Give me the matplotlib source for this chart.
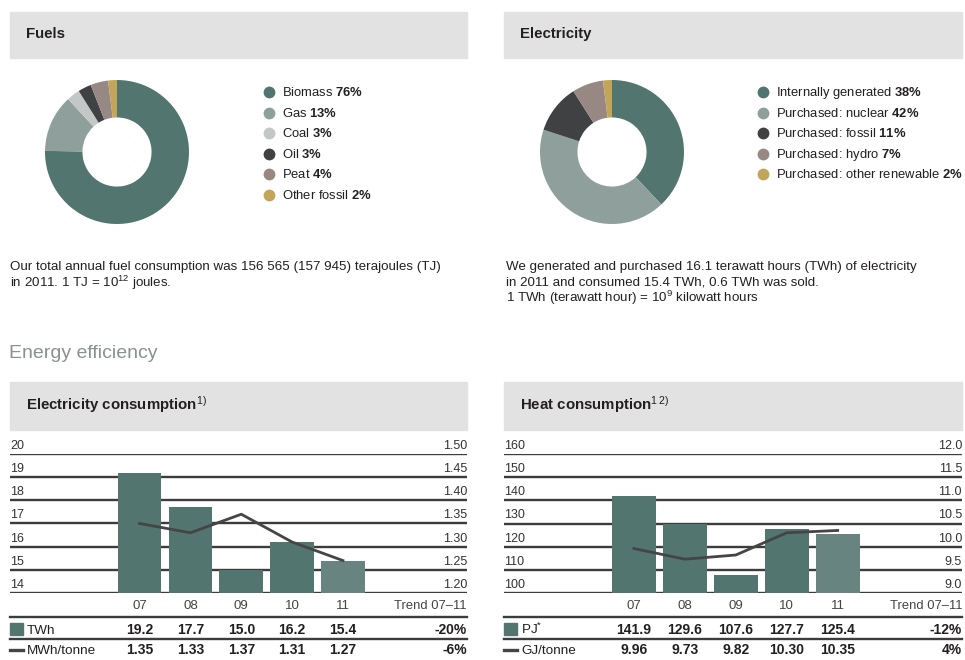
import matplotlib.pyplot as plt
import matplotlib.transforms as mtrans
from matplotlib.patches import Rectangle
from matplotlib.lines import Line2D

plt.rcParams['font.family'] = ['Liberation Sans', 'DejaVu Sans']
plt.rcParams['mathtext.fontset'] = 'custom'
plt.rcParams['mathtext.rm'] = 'Liberation Sans'
plt.rcParams['mathtext.bf'] = 'Liberation Sans:bold'
plt.rcParams['mathtext.it'] = 'Liberation Sans:italic'

# --- data ---
fuel_labels = ['Biomass', 'Gas', 'Coal', 'Oil', 'Peat', 'Other fossil']
fuel_share = [76, 13, 3, 3, 4, 2]
fuel_colors = ['#52756f', '#8fa09c', '#c3c8c6', '#3f4143', '#988884', '#c2a558']

elec_labels = ['Internally generated', 'Purchased: nuclear', 'Purchased: fossil',
               'Purchased: hydro', 'Purchased: other renewable']
elec_share = [38, 42, 11, 7, 2]
elec_colors = ['#52756f', '#8fa09c', '#3f4143', '#988884', '#c2a558']

years = ['07', '08', '09', '10', '11']
elec_twh = [19.2, 17.7, 15.0, 16.2, 15.4]
elec_mwh_t = [1.35, 1.33, 1.37, 1.31, 1.27]
elec_trend = ['-20%', '-6%']
elec_ticks_l = [14, 15, 16, 17, 18, 19, 20]
elec_ticks_r = [1.20, 1.25, 1.30, 1.35, 1.40, 1.45, 1.50]

heat_pj = [141.9, 129.6, 107.6, 127.7, 125.4]
heat_gj_t = [9.96, 9.73, 9.82, 10.30, 10.35]
heat_trend = ['-12%', '4%']
heat_ticks_l = [100, 110, 120, 130, 140, 150, 160]
heat_ticks_r = [9.0, 9.5, 10.0, 10.5, 11.0, 11.5, 12.0]

TXT = '#231f20'
BAR = '#52756f'
BAR_LAST = '#688480'
LINE = '#454545'
GRID = '#3c3c3c'
HEAD = '#e1e2e1'

W, H = 965, 660
fig = plt.figure(figsize=(W / 100, H / 100), dpi=100)


def rect(x0, y0, x1, y1):
    # pixel box (top-left origin) -> figure fraction
    return [x0 / W, 1 - y1 / H, (x1 - x0) / W, (y1 - y0) / H]


def ftext(x, y, s, **kw):
    kw.setdefault('color', TXT)
    kw.setdefault('fontsize', 9)
    kw.setdefault('va', 'center')
    return fig.text(x / W, 1 - y / H, s, **kw)


def header(x0, x1, y0, y1, title):
    fig.patches.append(Rectangle((x0 / W, 1 - y1 / H), (x1 - x0) / W, (y1 - y0) / H,
                                 transform=fig.transFigure, color=HEAD, zorder=0))
    ftext(x0 + 16, (y0 + y1) / 2 - 1, title, fontsize=10.8, fontweight='bold')


# --- donuts ---
def donut(box, shares, colors, labels, leg_x, leg_y):
    ax = fig.add_axes(rect(*box))
    wedges, _ = ax.pie(shares, colors=colors, startangle=90, counterclock=False,
                       wedgeprops=dict(width=0.52, linewidth=0))
    ax.set_xlim(-1, 1)
    ax.set_ylim(-1, 1)
    # legend rows: key dot + label with bold share
    for i, (w, n, v) in enumerate(zip(wedges, labels, shares)):
        yy = leg_y + 20.6 * i
        fig.lines.append(Line2D([leg_x / W], [1 - yy / H], ls='', marker='o', markersize=8.5,
                                markerfacecolor=w.get_facecolor(), markeredgewidth=0,
                                transform=fig.transFigure))
        ftext(leg_x + 13, yy + 4, f'{n} $\\mathbf{{{v}\\%}}$', fontsize=9.35, va='baseline')


header(10, 467, 12, 58, 'Fuels')
header(504, 962, 12, 58, 'Electricity')
donut((45, 80, 189, 224), fuel_share, fuel_colors, fuel_labels, 269, 92)
donut((540, 80, 684, 224), elec_share, elec_colors, elec_labels, 763, 92)

ftext(10, 267, 'Our total annual fuel consumption was 156 565 (157 945) terajoules (TJ)', fontsize=9.6)
ftext(10, 283, 'in 2011. 1 TJ = 10$^{12}$ joules.', fontsize=9.6)
ftext(506, 267, 'We generated and purchased 16.1 terawatt hours (TWh) of electricity', fontsize=9.6)
ftext(506, 283, 'in 2011 and consumed 15.4 TWh, 0.6 TWh was sold.', fontsize=9.6)
ftext(506, 298, '1 TWh (terawatt hour) = 10$^{9}$ kilowatt hours', fontsize=9.6)

ftext(9, 354, 'Energy efficiency', fontsize=14, color='#8a9190')


# --- bar + line panels ---
def panel(x0, x1, title, bars, line, tl, tr, rfmt, bfmt, lfmt, rows, trends):
    y_top, y_bot = 454, 593
    header(x0, x1, 382, 430, title)
    ax = fig.add_axes(rect(x0, y_top, x1, y_bot))
    ax2 = ax.twinx()
    x = list(range(len(years)))
    ax.set_xlim(-2.55, 6.44)
    ax.set_ylim(tl[0], tl[-1])
    ax2.set_ylim(tr[0], tr[-1])
    for a in (ax, ax2):
        a.set_axis_off()
    for v in tl:
        ax.axhline(v, color=GRID, lw=1.7, zorder=1)
    cols = [BAR] * (len(years) - 1) + [BAR_LAST]
    ax.bar(x, [b - tl[0] for b in bars], bottom=tl[0], width=0.86, color=cols, zorder=2)
    ax2.plot(x, line, color=LINE, lw=2.0, zorder=3)

    left = mtrans.blended_transform_factory(ax.transAxes, ax.transData)
    right = mtrans.blended_transform_factory(ax2.transAxes, ax2.transData)
    for v in tl:
        ax.annotate(str(v), (0, v), xycoords=left, xytext=(0, 5), textcoords='offset pixels',
                    ha='left', va='baseline', fontsize=9, color='#333333')
    for v in tr:
        ax2.annotate(rfmt.format(v), (1, v), xycoords=right, xytext=(0, 5),
                     textcoords='offset pixels', ha='right', va='baseline',
                     fontsize=9, color='#333333')

    below = mtrans.blended_transform_factory(ax.transData, ax.transAxes)
    below_r = ax.transAxes
    for i, yl in enumerate(years):
        ax.annotate(yl, (i, 0), xycoords=below, xytext=(0, -16), textcoords='offset pixels',
                    ha='center', va='baseline', fontsize=9.5, color='#444444')
        ax.annotate(bfmt.format(bars[i]), (i, 0), xycoords=below, xytext=(0, -41),
                    textcoords='offset pixels', ha='center', va='baseline',
                    fontsize=10, fontweight='bold', color=TXT)
        ax.annotate(lfmt.format(line[i]), (i, 0), xycoords=below, xytext=(0, -61),
                    textcoords='offset pixels', ha='center', va='baseline',
                    fontsize=10, fontweight='bold', color=TXT)
    ax.annotate('Trend 07\u201311', (1, 0), xycoords=below_r, xytext=(0, -16),
                textcoords='offset pixels', ha='right', va='baseline', fontsize=9.4, color='#444444')
    for tr_s, off in zip(trends, (-41, -61)):
        ax.annotate(tr_s, (1, 0), xycoords=below_r, xytext=(0, off), textcoords='offset pixels',
                    ha='right', va='baseline', fontsize=10, fontweight='bold', color=TXT)
    for k, off in enumerate((-41, -61)):
        ax.annotate(rows[k], (0, 0), xycoords=below_r, xytext=(17, off),
                    textcoords='offset pixels', ha='left', va='baseline', fontsize=9.7, color=TXT)
    # separators
    for yy in (617, 639):
        f = (y_bot - yy) / (y_bot - y_top)
        ax.plot([0, 1], [f, f], transform=ax.transAxes, color=GRID, lw=1.7, clip_on=False)
    # row keys
    fig.patches.append(Rectangle((x0 / W, 1 - 635 / H), 13 / W, 12 / H,
                                 transform=fig.transFigure, color=BAR))
    fig.lines.append(Line2D([x0 / W, (x0 + 13) / W], [1 - 650 / H] * 2,
                            transform=fig.transFigure, color=LINE, lw=2.4))


panel(10, 467, 'Electricity consumption$^{1)}$', elec_twh, elec_mwh_t,
      elec_ticks_l, elec_ticks_r, '{:.2f}', '{:.1f}', '{:.2f}',
      ['TWh', 'MWh/tonne'], elec_trend)
panel(504, 962, 'Heat consumption$^{1\\,2)}$', heat_pj, heat_gj_t,
      heat_ticks_l, heat_ticks_r, '{:.1f}', '{:.1f}', '{:.2f}',
      ['PJ$^{*}$', 'GJ/tonne'], heat_trend)

fig.savefig('out.png', dpi=100)
